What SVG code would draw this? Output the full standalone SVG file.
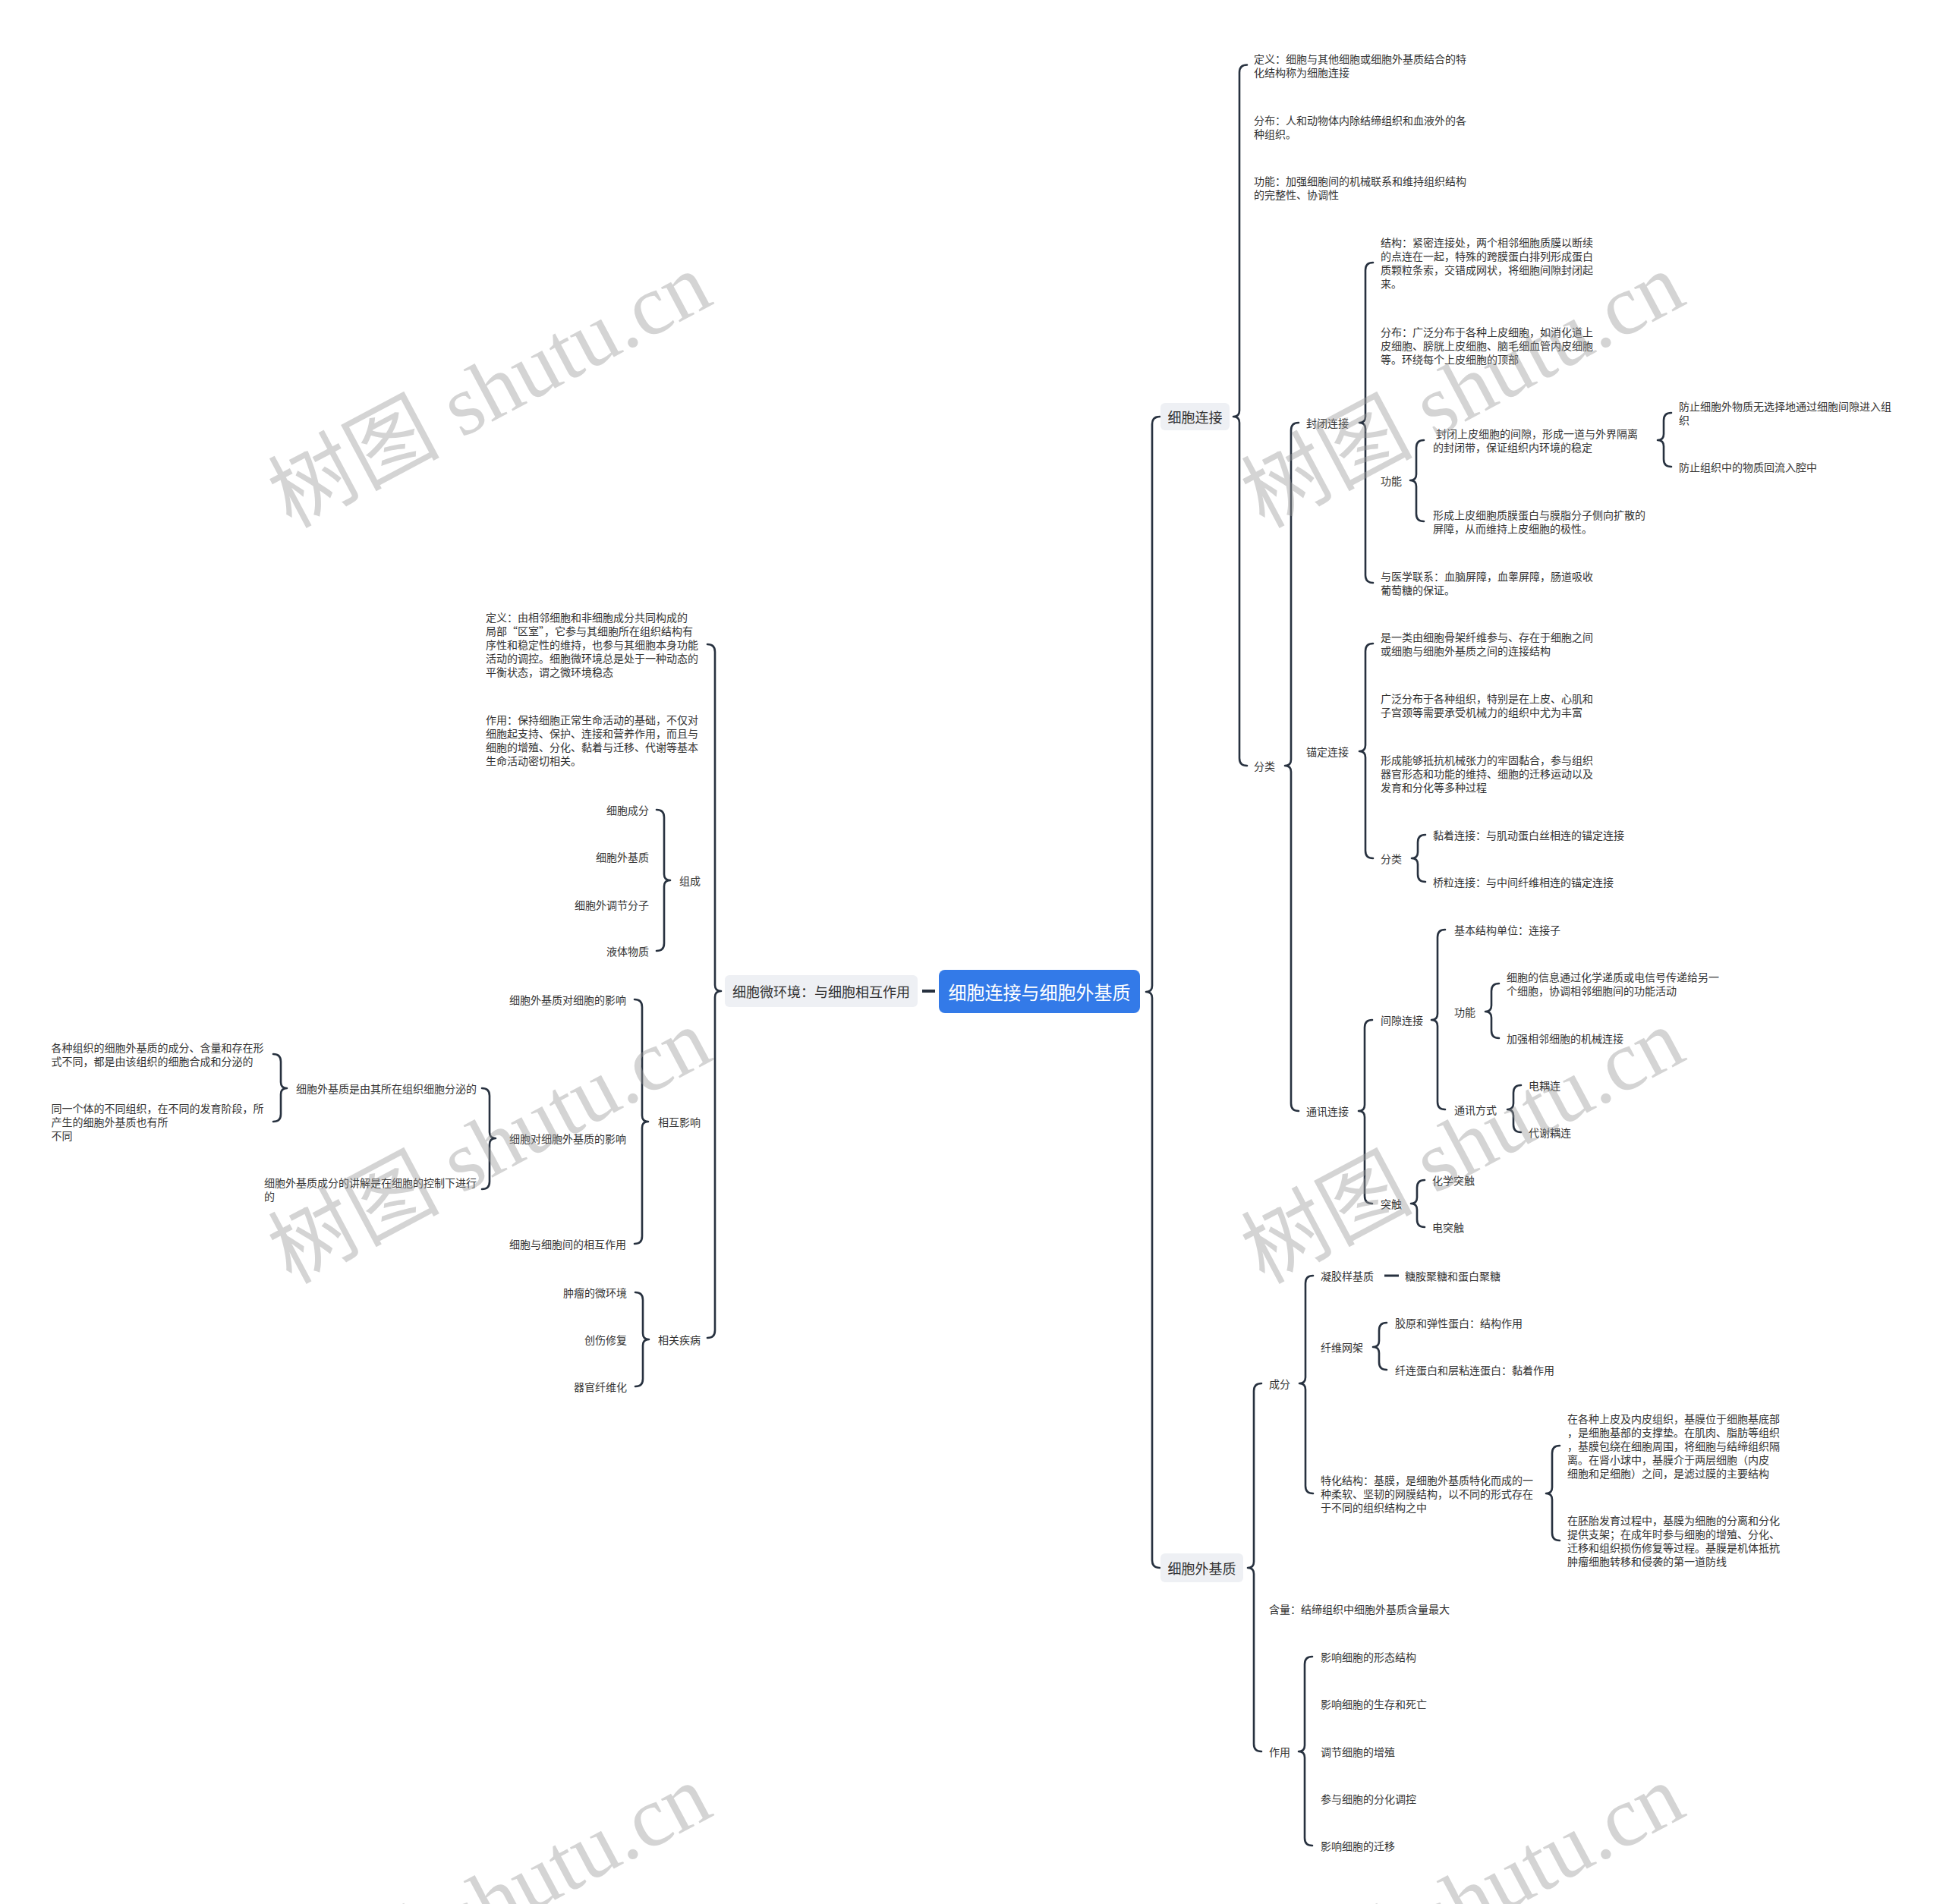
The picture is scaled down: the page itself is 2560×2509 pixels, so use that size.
<svg xmlns="http://www.w3.org/2000/svg" width="2560" height="2509" viewBox="0 0 2560 2509">
<style>
text{font-family:"Noto Sans CJK SC","Noto Sans",sans-serif;fill:#333;dominant-baseline:central}
.t{font-size:14px}
.m{font-size:18px}
.c{font-size:24px;fill:#fff}
.e{text-anchor:end}
.mid{text-anchor:middle}
.br{fill:none;stroke:#27313f;stroke-width:2.6;stroke-linecap:round;stroke-linejoin:round}
.box{fill:#eef0f4}
.wm{font-family:"Liberation Serif","Noto Sans CJK SC",serif;font-size:113px;fill:#999;fill-opacity:0.42;text-anchor:middle}
</style>
<rect width="2560" height="2509" fill="#fff"/>
<g id="connectors">
<path class="br" d="M1528,549 Q1518,549 1518,559 L1518,1299 Q1518,1307 1510,1307 Q1518,1307 1518,1315 L1518,2056 Q1518,2066 1528,2066"/>
<path class="br" d="M1643,85.5 Q1633,85.5 1633,95.5 L1633,541 Q1633,549 1625,549 Q1633,549 1633,557 L1633,999 Q1633,1009 1643,1009"/>
<path class="br" d="M1711,557 Q1701,557 1701,567 L1701,1001 Q1701,1009 1693,1009 Q1701,1009 1701,1017 L1701,1454 Q1701,1464 1711,1464"/>
<path class="br" d="M1809,346 Q1799,346 1799,356 L1799,549 Q1799,557 1791,557 Q1799,557 1799,565 L1799,758 Q1799,768 1809,768"/>
<path class="br" d="M1876,580 Q1866,580 1866,590 L1866,625 Q1866,633 1858,633 Q1866,633 1866,641 L1866,677 Q1866,687 1876,687"/>
<path class="br" d="M2202,544 Q2192,544 2192,554 L2192,572 Q2192,580 2184,580 Q2192,580 2192,588 L2192,605 Q2192,615 2202,615"/>
<path class="br" d="M1809,848 Q1799,848 1799,858 L1799,982 Q1799,990 1791,990 Q1799,990 1799,998 L1799,1121 Q1799,1131 1809,1131"/>
<path class="br" d="M1878,1100 Q1868,1100 1868,1110 L1868,1123 Q1868,1131 1860,1131 Q1868,1131 1868,1139 L1868,1152 Q1868,1162 1878,1162"/>
<path class="br" d="M1808,1344 Q1798,1344 1798,1354 L1798,1456 Q1798,1464 1790,1464 Q1798,1464 1798,1472 L1798,1576 Q1798,1586 1808,1586"/>
<path class="br" d="M1904,1225 Q1894,1225 1894,1235 L1894,1336 Q1894,1344 1886,1344 Q1894,1344 1894,1352 L1894,1452 Q1894,1462 1904,1462"/>
<path class="br" d="M1975,1296 Q1965,1296 1965,1306 L1965,1325 Q1965,1333 1957,1333 Q1965,1333 1965,1341 L1965,1358 Q1965,1368 1975,1368"/>
<path class="br" d="M2004,1430 Q1994,1430 1994,1440 L1994,1454 Q1994,1462 1986,1462 Q1994,1462 1994,1470 L1994,1482 Q1994,1492 2004,1492"/>
<path class="br" d="M1877,1555 Q1867,1555 1867,1565 L1867,1578 Q1867,1586 1859,1586 Q1867,1586 1867,1594 L1867,1607 Q1867,1617 1877,1617"/>
<path class="br" d="M1662,1823 Q1652,1823 1652,1833 L1652,2058 Q1652,2066 1644,2066 Q1652,2066 1652,2074 L1652,2298 Q1652,2308 1662,2308"/>
<path class="br" d="M1730,1681 Q1720,1681 1720,1691 L1720,1815 Q1720,1823 1712,1823 Q1720,1823 1720,1831 L1720,1958 Q1720,1968 1730,1968"/>
<path class="br" d="M1827,1743 Q1817,1743 1817,1753 L1817,1767 Q1817,1775 1809,1775 Q1817,1775 1817,1783 L1817,1795 Q1817,1805 1827,1805"/>
<path class="br" d="M2055,1905 Q2045,1905 2045,1915 L2045,1960 Q2045,1968 2037,1968 Q2045,1968 2045,1976 L2045,2020 Q2045,2030 2055,2030"/>
<path class="br" d="M1729,2183 Q1719,2183 1719,2193 L1719,2300 Q1719,2308 1711,2308 Q1719,2308 1719,2316 L1719,2422 Q1719,2432 1729,2432"/>
<path class="br" d="M932,849 Q942,849 942,859 L942,1298 Q942,1306 950,1306 Q942,1306 942,1314 L942,1753 Q942,1763 932,1763"/>
<path class="br" d="M865,1067 Q875,1067 875,1077 L875,1152 Q875,1160 883,1160 Q875,1160 875,1168 L875,1243 Q875,1253 865,1253"/>
<path class="br" d="M836,1317 Q846,1317 846,1327 L846,1470 Q846,1478 854,1478 Q846,1478 846,1486 L846,1629 Q846,1639 836,1639"/>
<path class="br" d="M635,1434 Q645,1434 645,1444 L645,1492 Q645,1500 653,1500 Q645,1500 645,1508 L645,1557 Q645,1567 635,1567"/>
<path class="br" d="M360,1389 Q370,1389 370,1399 L370,1426 Q370,1434 378,1434 Q370,1434 370,1442 L370,1468 Q370,1478 360,1478"/>
<path class="br" d="M837,1703 Q847,1703 847,1713 L847,1757 Q847,1765 855,1765 Q847,1765 847,1773 L847,1817 Q847,1827 837,1827"/>
<line x1="1215" y1="1306" x2="1232" y2="1306" stroke="#27313f" stroke-width="4"/>
<line x1="1824" y1="1681" x2="1843" y2="1681" stroke="#27313f" stroke-width="3"/>
</g>
<g id="root">
<rect x="1237" y="1278" width="265" height="57" rx="8" fill="#337ae8"/>
<text class="c mid" x="1369.5" y="1306.5">细胞连接与细胞外基质</text>
</g>
<g id="n-micro">
<rect class="box" x="955" y="1285" width="254" height="42" rx="6"/>
<text class="m mid" x="1082" y="1306">细胞微环境：与细胞相互作用</text>
</g>
<g id="n-junction">
<rect class="box" x="1529" y="531" width="91" height="36" rx="6"/>
<text class="m mid" x="1574.5" y="549">细胞连接</text>
</g>
<g id="n-ecm">
<rect class="box" x="1529" y="2047" width="109" height="38" rx="6"/>
<text class="m mid" x="1583.5" y="2066">细胞外基质</text>
</g>
<g id="n-j-def"><text class="t" x="1652" y="76.5">定义：细胞与其他细胞或细胞外基质结合的特</text><text class="t" x="1652" y="94.5">化结构称为细胞连接</text></g>
<g id="n-j-dist"><text class="t" x="1652" y="158">分布：人和动物体内除结缔组织和血液外的各</text><text class="t" x="1652" y="176">种组织。</text></g>
<g id="n-j-func"><text class="t" x="1652" y="238">功能：加强细胞间的机械联系和维持组织结构</text><text class="t" x="1652" y="256">的完整性、协调性</text></g>
<g id="n-j-class"><text class="t" x="1652" y="1009">分类</text></g>
<g id="n-tight"><text class="t" x="1721" y="557">封闭连接</text></g>
<g id="n-anchor"><text class="t" x="1721" y="990">锚定连接</text></g>
<g id="n-comm"><text class="t" x="1721" y="1464">通讯连接</text></g>
<g id="n-tight-struct"><text class="t" x="1819" y="319">结构：紧密连接处，两个相邻细胞质膜以断续</text><text class="t" x="1819" y="337">的点连在一起，特殊的跨膜蛋白排列形成蛋白</text><text class="t" x="1819" y="355">质颗粒条索，交错成网状，将细胞间隙封闭起</text><text class="t" x="1819" y="373">来。</text></g>
<g id="n-tight-dist"><text class="t" x="1819" y="437">分布：广泛分布于各种上皮细胞，如消化道上</text><text class="t" x="1819" y="455">皮细胞、膀胱上皮细胞、脑毛细血管内皮细胞</text><text class="t" x="1819" y="473">等。环绕每个上皮细胞的顶部</text></g>
<g id="n-tight-func"><text class="t" x="1819" y="633">功能</text></g>
<g id="n-tight-med"><text class="t" x="1819" y="759">与医学联系：血脑屏障，血睾屏障，肠道吸收</text><text class="t" x="1819" y="777">葡萄糖的保证。</text></g>
<g id="n-tight-f1"><text class="t" x="1892" y="571">封闭上皮细胞的间隙，形成一道与外界隔离</text><text class="t" x="1888" y="589">的封闭带，保证组织内环境的稳定</text></g>
<g id="n-tight-f2"><text class="t" x="1888" y="678">形成上皮细胞质膜蛋白与膜脂分子侧向扩散的</text><text class="t" x="1888" y="696">屏障，从而维持上皮细胞的极性。</text></g>
<g id="n-tight-f1a"><text class="t" x="2212" y="535">防止细胞外物质无选择地通过细胞间隙进入组</text><text class="t" x="2212" y="553">织</text></g>
<g id="n-tight-f1b"><text class="t" x="2212" y="615">防止组织中的物质回流入腔中</text></g>
<g id="n-anc-1"><text class="t" x="1819" y="839">是一类由细胞骨架纤维参与、存在于细胞之间</text><text class="t" x="1819" y="857">或细胞与细胞外基质之间的连接结构</text></g>
<g id="n-anc-2"><text class="t" x="1819" y="920">广泛分布于各种组织，特别是在上皮、心肌和</text><text class="t" x="1819" y="938">子宫颈等需要承受机械力的组织中尤为丰富</text></g>
<g id="n-anc-3"><text class="t" x="1819" y="1001">形成能够抵抗机械张力的牢固黏合，参与组织</text><text class="t" x="1819" y="1019">器官形态和功能的维持、细胞的迁移运动以及</text><text class="t" x="1819" y="1037">发育和分化等多种过程</text></g>
<g id="n-anc-class"><text class="t" x="1819" y="1131">分类</text></g>
<g id="n-anc-c1"><text class="t" x="1888" y="1100">黏着连接：与肌动蛋白丝相连的锚定连接</text></g>
<g id="n-anc-c2"><text class="t" x="1888" y="1162">桥粒连接：与中间纤维相连的锚定连接</text></g>
<g id="n-gap"><text class="t" x="1819" y="1344">间隙连接</text></g>
<g id="n-syn"><text class="t" x="1819" y="1586">突触</text></g>
<g id="n-gap-unit"><text class="t" x="1916" y="1225">基本结构单位：连接子</text></g>
<g id="n-gap-func"><text class="t" x="1916" y="1333">功能</text></g>
<g id="n-gap-mode"><text class="t" x="1916" y="1462">通讯方式</text></g>
<g id="n-gap-f1"><text class="t" x="1985" y="1287">细胞的信息通过化学递质或电信号传递给另一</text><text class="t" x="1985" y="1305">个细胞，协调相邻细胞间的功能活动</text></g>
<g id="n-gap-f2"><text class="t" x="1985" y="1368">加强相邻细胞的机械连接</text></g>
<g id="n-gap-m1"><text class="t" x="2014" y="1430">电耦连</text></g>
<g id="n-gap-m2"><text class="t" x="2014" y="1492">代谢耦连</text></g>
<g id="n-syn-1"><text class="t" x="1887" y="1555">化学突触</text></g>
<g id="n-syn-2"><text class="t" x="1887" y="1617">电突触</text></g>
<g id="n-ecm-comp"><text class="t" x="1672" y="1823">成分</text></g>
<g id="n-ecm-amount"><text class="t" x="1672" y="2120">含量：结缔组织中细胞外基质含量最大</text></g>
<g id="n-ecm-role"><text class="t" x="1672" y="2308">作用</text></g>
<g id="n-gel"><text class="t" x="1740" y="1681">凝胶样基质</text></g>
<g id="n-gel-1"><text class="t" x="1851" y="1681">糖胺聚糖和蛋白聚糖</text></g>
<g id="n-fiber"><text class="t" x="1740" y="1775">纤维网架</text></g>
<g id="n-fiber-1"><text class="t" x="1838" y="1743">胶原和弹性蛋白：结构作用</text></g>
<g id="n-fiber-2"><text class="t" x="1838" y="1805">纤连蛋白和层粘连蛋白：黏着作用</text></g>
<g id="n-bm"><text class="t" x="1740" y="1950">特化结构：基膜，是细胞外基质特化而成的一</text><text class="t" x="1740" y="1968">种柔软、坚韧的网膜结构，以不同的形式存在</text><text class="t" x="1740" y="1986">于不同的组织结构之中</text></g>
<g id="n-bm-1"><text class="t" x="2065" y="1869">在各种上皮及内皮组织，基膜位于细胞基底部</text><text class="t" x="2065" y="1887">，是细胞基部的支撑垫。在肌肉、脂肪等组织</text><text class="t" x="2065" y="1905">，基膜包绕在细胞周围，将细胞与结缔组织隔</text><text class="t" x="2065" y="1923">离。在肾小球中，基膜介于两层细胞（内皮</text><text class="t" x="2065" y="1941">细胞和足细胞）之间，是滤过膜的主要结构</text></g>
<g id="n-bm-2"><text class="t" x="2065" y="2003">在胚胎发育过程中，基膜为细胞的分离和分化</text><text class="t" x="2065" y="2021">提供支架；在成年时参与细胞的增殖、分化、</text><text class="t" x="2065" y="2039">迁移和组织损伤修复等过程。基膜是机体抵抗</text><text class="t" x="2065" y="2057">肿瘤细胞转移和侵袭的第一道防线</text></g>
<g id="n-role-1"><text class="t" x="1740" y="2183">影响细胞的形态结构</text></g>
<g id="n-role-2"><text class="t" x="1740" y="2245">影响细胞的生存和死亡</text></g>
<g id="n-role-3"><text class="t" x="1740" y="2308">调节细胞的增殖</text></g>
<g id="n-role-4"><text class="t" x="1740" y="2370">参与细胞的分化调控</text></g>
<g id="n-role-5"><text class="t" x="1740" y="2432">影响细胞的迁移</text></g>
<g id="n-m-def"><text class="t" x="640" y="813">定义：由相邻细胞和非细胞成分共同构成的</text><text class="t" x="640" y="831">局部“区室”，它参与其细胞所在组织结构有</text><text class="t" x="640" y="849">序性和稳定性的维持，也参与其细胞本身功能</text><text class="t" x="640" y="867">活动的调控。细胞微环境总是处于一种动态的</text><text class="t" x="640" y="885">平衡状态，谓之微环境稳态</text></g>
<g id="n-m-role"><text class="t" x="640" y="948">作用：保持细胞正常生命活动的基础，不仅对</text><text class="t" x="640" y="966">细胞起支持、保护、连接和营养作用，而且与</text><text class="t" x="640" y="984">细胞的增殖、分化、黏着与迁移、代谢等基本</text><text class="t" x="640" y="1002">生命活动密切相关。</text></g>
<g id="n-m-comp"><text class="t e" x="923" y="1160">组成</text></g>
<g id="n-m-inter"><text class="t e" x="923" y="1478">相互影响</text></g>
<g id="n-m-dis"><text class="t e" x="923" y="1765">相关疾病</text></g>
<g id="n-comp-1"><text class="t e" x="855" y="1067">细胞成分</text></g>
<g id="n-comp-2"><text class="t e" x="855" y="1129">细胞外基质</text></g>
<g id="n-comp-3"><text class="t e" x="855" y="1192">细胞外调节分子</text></g>
<g id="n-comp-4"><text class="t e" x="855" y="1253">液体物质</text></g>
<g id="n-inter-1"><text class="t e" x="825" y="1317">细胞外基质对细胞的影响</text></g>
<g id="n-inter-2"><text class="t e" x="825" y="1500">细胞对细胞外基质的影响</text></g>
<g id="n-inter-3"><text class="t e" x="825" y="1639">细胞与细胞间的相互作用</text></g>
<g id="n-inter-2a"><text class="t e" x="628" y="1434">细胞外基质是由其所在组织细胞分泌的</text></g>
<g id="n-inter-2b"><text class="t" x="348" y="1558">细胞外基质成分的讲解是在细胞的控制下进行</text><text class="t" x="348" y="1576">的</text></g>
<g id="n-inter-2a1"><text class="t" x="67.5" y="1380">各种组织的细胞外基质的成分、含量和存在形</text><text class="t" x="67.5" y="1398">式不同，都是由该组织的细胞合成和分泌的</text></g>
<g id="n-inter-2a2"><text class="t" x="67.5" y="1460">同一个体的不同组织，在不同的发育阶段，所</text><text class="t" x="67.5" y="1478">产生的细胞外基质也有所</text><text class="t" x="67.5" y="1496">不同</text></g>
<g id="n-dis-1"><text class="t e" x="826" y="1703">肿瘤的微环境</text></g>
<g id="n-dis-2"><text class="t e" x="826" y="1765">创伤修复</text></g>
<g id="n-dis-3"><text class="t e" x="826" y="1827">器官纤维化</text></g>
<g id="watermarks">
<text class="wm" transform="translate(645,514) rotate(-28)">树图 shutu.cn</text>
<text class="wm" transform="translate(1927,514) rotate(-28)">树图 shutu.cn</text>
<text class="wm" transform="translate(645,1510) rotate(-28)">树图 shutu.cn</text>
<text class="wm" transform="translate(1927,1510) rotate(-28)">树图 shutu.cn</text>
<text class="wm" transform="translate(645,2506) rotate(-28)">树图 shutu.cn</text>
<text class="wm" transform="translate(1927,2506) rotate(-28)">树图 shutu.cn</text>
</g>
</svg>
